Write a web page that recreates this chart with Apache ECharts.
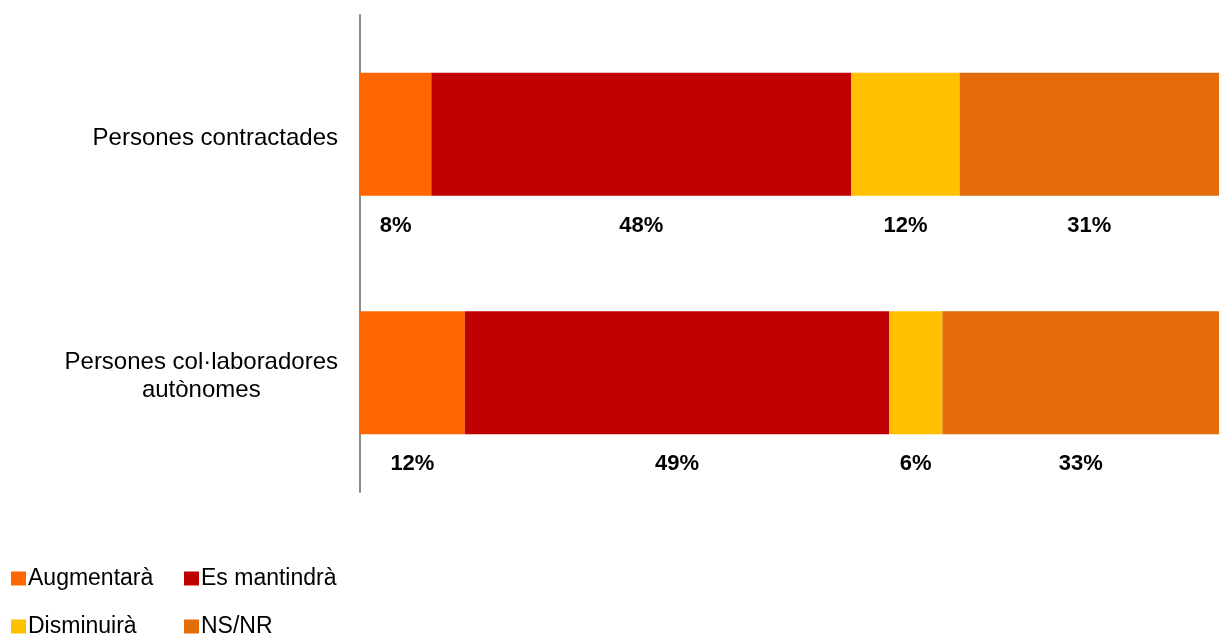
<!DOCTYPE html>
<html>
<head>
<meta charset="utf-8">
<script src="https://cdn.jsdelivr.net/npm/echarts@6/dist/echarts.min.js"></script>
<style>html,body{margin:0;padding:0;background:#fff}#c{width:1219px;height:635px}</style>
</head>
<body>
<div id="c"></div>
<script>
const categories = ['Persones contractades', 'Persones col·laboradores\nautònomes'];
const seriesNames = ['Augmentarà', 'Es mantindrà', 'Disminuirà', 'NS/NR'];
const augmentara = [8.3, 12.2];
const esMantindra = [48.9, 49.4];
const disminuira = [12.6, 6.2];
const nsnr = [30.2, 32.2];
const labelAugmentara = ['8%', '12%'];
const labelEsMantindra = ['48%', '49%'];
const labelDisminuira = ['12%', '6%'];
const labelNsnr = ['31%', '33%'];

const colors = ['#FF6600', '#C00000', '#FFC000', '#E46C0A'];
const values = [augmentara, esMantindra, disminuira, nsnr];
const labels = [labelAugmentara, labelEsMantindra, labelDisminuira, labelNsnr];
const FONT = "'Liberation Sans', Arial, sans-serif";

const chart = echarts.init(document.getElementById('c'), null, {renderer: 'canvas'});
const series = seriesNames.map((name, i) => ({
  name: name,
  type: 'bar',
  stack: 'total',
  barWidth: 123,
  itemStyle: {color: colors[i]},
  label: {
    show: true,
    position: 'bottom',
    distance: 19,
    fontFamily: FONT,
    fontSize: 22,
    fontWeight: 'bold',
    color: '#000',
    formatter: p => labels[i][p.dataIndex]
  },
  data: values[i]
}));

// legend layout: 2 columns x 2 rows
const legendLefts = [6, 179, 6, 179];
const legendTops = [562, 562, 610, 610];
const legends = seriesNames.map((n, i) => ({
  left: legendLefts[i],
  top: legendTops[i],
  itemWidth: 15,
  itemHeight: 14,
  icon: 'rect',
  data: [n],
  textStyle: {fontFamily: FONT, fontSize: 23, color: '#000', padding: [0, 0, 0, -3]}
}));

chart.setOption({
  animation: false,
  backgroundColor: '#fff',
  grid: {left: 360, right: 0, top: 15, bottom: 143, containLabel: false},
  legend: legends,
  xAxis: {type: 'value', min: 0, max: 100, show: false},
  yAxis: {
    type: 'category',
    inverse: true,
    data: categories,
    axisLine: {show: true, lineStyle: {color: '#8c8c8c', width: 2}},
    axisTick: {show: false},
    axisLabel: {
      margin: 22,
      color: '#000',
      fontFamily: FONT,
      fontSize: 24,
      lineHeight: 28,
      padding: [8, 0, 0, 0],
      formatter: v => v.split('\n').map(l => '{c|' + l + '}').join('\n'),
      rich: {c: {align: 'center', fontFamily: FONT, fontSize: 24, lineHeight: 28, color: '#000'}}
    }
  },
  series: series
});
</script>
</body>
</html>
